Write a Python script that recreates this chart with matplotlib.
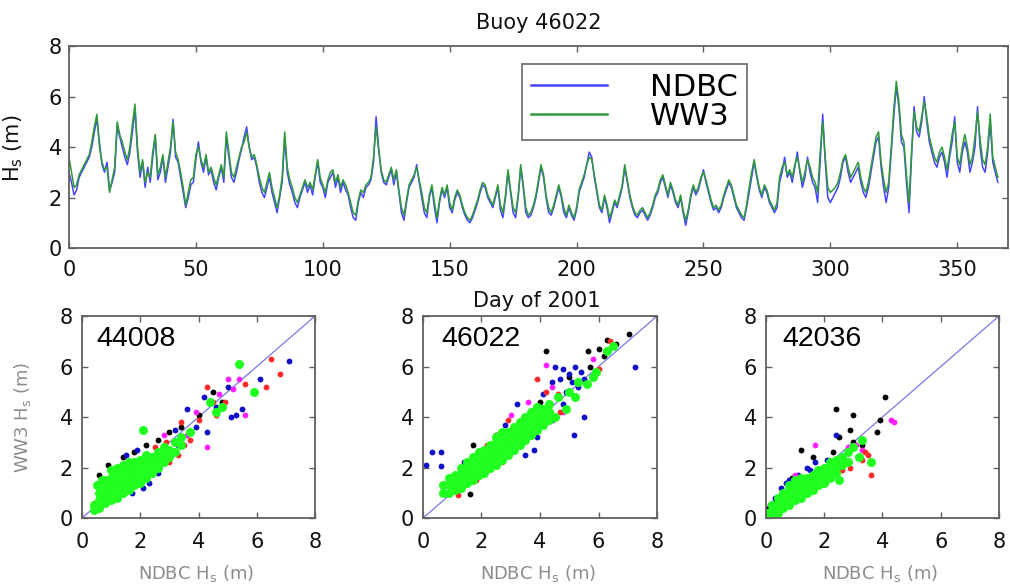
import numpy as np
import matplotlib
matplotlib.use("Agg")
import matplotlib.pyplot as plt

# ---------------- data ----------------
ndbc_hs = [
    3.0, 2.6, 2.1, 2.3, 2.8, 3.0, 3.2, 3.4, 3.6, 4.0,
    4.6, 5.1, 4.2, 3.3, 3.0, 3.4, 2.3, 2.6, 3.0, 4.8,
    4.4, 4.0, 3.6, 3.3, 3.8, 4.6, 5.5, 3.8, 2.8, 3.4,
    2.4, 3.2, 2.6, 3.6, 4.4, 2.7, 3.0, 3.6, 2.6, 3.2,
    3.8, 5.1, 3.6, 3.4, 2.8, 2.2, 1.6, 2.0, 2.5, 2.6,
    3.5, 4.2, 3.4, 3.0, 3.6, 2.9, 3.1, 2.6, 2.3, 2.8,
    3.2, 2.6, 4.4, 3.6, 2.8, 2.6, 3.0, 3.5, 3.9, 4.4,
    4.8, 4.0, 3.5, 3.6, 3.2, 2.6, 2.2, 2.0, 2.4, 2.8,
    2.2, 1.8, 1.4, 2.0, 2.6, 4.4, 3.0, 2.5, 2.2, 1.8,
    1.6, 2.0, 2.3, 2.6, 2.2, 2.5, 2.1, 2.8, 3.4, 2.6,
    2.4, 2.0, 2.6, 2.8, 3.0, 2.4, 2.8, 2.2, 2.6, 2.3,
    2.1, 1.6, 1.2, 1.1, 1.8, 2.2, 2.0, 2.4, 2.5, 2.7,
    3.4, 5.2, 4.0, 3.0, 2.6, 2.5, 2.8, 3.1, 2.5, 3.0,
    2.2, 1.4, 1.1, 1.8, 2.4, 2.6, 2.8, 3.3, 2.6, 2.0,
    1.4, 1.2, 2.0, 2.4, 1.6, 1.0, 1.8, 2.3, 2.0, 2.4,
    1.6, 1.4, 1.9, 2.2, 2.0, 1.6, 1.3, 1.1, 1.0, 1.2,
    1.5, 1.8, 2.2, 2.5, 2.4, 2.0, 1.8, 1.6, 2.0, 2.4,
    1.5, 1.2, 2.0, 3.0, 2.2, 1.4, 1.2, 2.0, 3.2, 2.4,
    1.4, 1.2, 1.3, 1.6, 2.0, 2.6, 3.2, 2.8, 2.0, 1.4,
    1.3, 1.6, 2.0, 2.4, 2.0, 1.4, 1.2, 1.6, 1.3, 1.1,
    1.5, 2.2, 2.5, 2.8, 3.3, 3.8, 3.6, 2.8, 2.2, 1.6,
    1.4, 2.0, 1.6, 1.0, 1.4, 1.8, 1.6, 2.0, 2.4, 3.2,
    2.6, 2.0, 1.6, 1.3, 1.2, 1.4, 1.5, 1.3, 1.1, 1.3,
    1.6, 2.0, 2.2, 2.6, 2.8, 2.4, 2.0, 2.5, 2.2, 1.8,
    1.6, 2.0, 1.4, 0.9, 1.4, 2.0, 2.4, 2.1, 2.3, 2.7,
    3.1, 2.6, 2.2, 1.8, 1.5, 1.6, 1.4, 1.6, 2.0, 2.3,
    2.6, 2.4, 2.0, 1.6, 1.4, 1.2, 1.1, 1.6, 2.2, 2.8,
    3.4, 2.8, 2.3, 2.0, 2.4, 2.2, 1.8, 1.6, 1.4, 1.6,
    2.6, 3.0, 3.6, 2.8, 3.0, 2.6, 3.2, 3.8, 3.0, 2.4,
    2.8, 3.6, 3.0, 2.6, 2.4, 1.8, 3.4, 5.3, 3.4, 2.0,
    1.8, 2.0, 2.2, 2.4, 2.8, 3.4, 3.6, 3.0, 2.6, 2.8,
    3.0, 3.2, 2.6, 2.2, 2.0, 2.4, 3.0, 3.6, 4.2, 4.4,
    3.2, 2.4, 1.8, 2.4, 3.8, 5.2, 6.4, 5.6, 4.2, 4.0,
    2.6, 1.4, 3.6, 5.6, 4.6, 4.4, 5.0, 6.0, 5.0, 4.2,
    3.8, 3.4, 3.2, 3.6, 3.8, 3.4, 2.8, 3.6, 4.2, 5.2,
    3.4, 3.0, 3.8, 4.2, 3.8, 3.0, 3.4, 4.0, 5.6, 4.0,
    3.2, 3.0, 3.8, 5.0, 3.4, 3.0, 2.6,
]

ww3_hs = [
    3.6, 3.0, 2.4, 2.5, 2.9, 3.1, 3.3, 3.5, 3.7, 4.2,
    4.8, 5.3, 4.0, 3.4, 3.1, 3.2, 2.2, 2.7, 3.2, 5.0,
    4.5, 4.2, 3.8, 3.5, 4.0, 4.9, 5.7, 4.0, 3.0, 3.5,
    2.6, 3.0, 2.8, 3.8, 4.5, 2.9, 3.2, 3.7, 2.8, 3.4,
    4.0, 5.0, 3.8, 3.5, 3.0, 2.4, 1.7, 2.2, 2.7, 2.8,
    3.7, 4.0, 3.5, 3.2, 3.7, 3.0, 3.2, 2.8, 2.5, 2.9,
    3.3, 2.8, 4.6, 3.8, 3.0, 2.8, 3.2, 3.6, 4.0, 4.2,
    4.6, 4.0, 3.6, 3.7, 3.3, 2.8, 2.4, 2.2, 2.6, 3.0,
    2.4, 2.0, 1.6, 2.1, 2.8, 4.6, 3.2, 2.7, 2.4, 2.0,
    1.8, 2.1, 2.4, 2.7, 2.4, 2.6, 2.3, 2.9, 3.5, 2.8,
    2.5, 2.2, 2.7, 3.0, 3.1, 2.6, 2.9, 2.4, 2.7, 2.5,
    2.2, 1.8, 1.4, 1.3, 1.9, 2.3, 2.2, 2.5, 2.6, 2.8,
    3.6, 4.8, 3.9, 3.1, 2.7, 2.6, 2.9, 3.2, 2.7, 3.1,
    2.3, 1.6, 1.3, 1.9, 2.5, 2.7, 2.9, 3.2, 2.7, 2.2,
    1.6, 1.4, 2.1, 2.5, 1.8, 1.2, 1.9, 2.4, 2.1, 2.5,
    1.8, 1.5, 2.0, 2.3, 2.1, 1.7, 1.4, 1.2, 1.1, 1.3,
    1.6, 1.9, 2.3, 2.6, 2.5, 2.1, 1.9, 1.7, 2.1, 2.5,
    1.7, 1.4, 2.1, 3.1, 2.3, 1.6, 1.4, 2.1, 3.3, 2.5,
    1.6, 1.3, 1.4, 1.7, 2.1, 2.7, 3.3, 2.9, 2.1, 1.6,
    1.4, 1.7, 2.1, 2.5, 2.1, 1.6, 1.3, 1.7, 1.4, 1.2,
    1.6, 2.3, 2.6, 2.9, 3.3, 3.6, 3.5, 2.9, 2.3, 1.7,
    1.5, 2.1, 1.7, 1.2, 1.5, 1.9, 1.7, 2.1, 2.5, 3.3,
    2.7, 2.1, 1.7, 1.4, 1.3, 1.5, 1.6, 1.4, 1.2, 1.4,
    1.7, 2.1, 2.3, 2.7, 2.9, 2.5, 2.1, 2.6, 2.3, 1.9,
    1.7, 2.1, 1.5, 1.1, 1.5, 2.1, 2.5, 2.2, 2.4, 2.8,
    3.0, 2.7, 2.3, 1.9, 1.6, 1.7, 1.5, 1.7, 2.1, 2.4,
    2.7, 2.5, 2.1, 1.7, 1.5, 1.3, 1.2, 1.7, 2.4, 3.0,
    3.5, 2.9, 2.4, 2.1, 2.5, 2.3, 1.9, 1.7, 1.5, 1.8,
    2.8, 3.2, 3.4, 2.9, 3.1, 2.8, 3.3, 3.6, 3.1, 2.6,
    3.0, 3.5, 3.2, 2.8, 2.6, 2.2, 3.8, 5.0, 3.6, 2.4,
    2.2, 2.3, 2.4, 2.6, 3.0, 3.5, 3.7, 3.2, 2.8, 3.0,
    3.2, 3.4, 2.8, 2.4, 2.2, 2.6, 3.2, 3.8, 4.4, 4.6,
    3.4, 2.7, 2.2, 2.6, 4.0, 5.5, 6.6, 5.8, 4.5, 4.2,
    2.9, 1.8, 3.8, 5.4, 4.8, 4.6, 5.2, 5.8, 5.2, 4.4,
    4.0, 3.6, 3.4, 3.8, 4.0, 3.6, 3.1, 3.8, 4.5, 5.0,
    3.6, 3.3, 4.0, 4.5, 4.0, 3.3, 3.6, 4.4, 5.4, 4.3,
    3.5, 3.3, 4.0, 5.3, 3.6, 3.2, 2.8,
]

series_labels = ["NDBC", "WW3"]
buoy_ids = ["44008", "46022", "42036"]
axis_ticks = [0, 2, 4, 6, 8]
day_ticks = [0, 50, 100, 150, 200, 250, 300, 350]
one_to_one = [0, 8]

# scatter pairs (NDBC Hs, WW3 Hs) per buoy and colour group
b44008_black = [(0.9, 2.1), (1.4, 2.4), (1.8, 2.6), (2.6, 3.1), (3.0, 3.4), (3.4, 3.6),
                (4.0, 4.1), (4.8, 4.6), (0.6, 1.7), (2.2, 2.9), (4.5, 5.0)]
b44008_blue = [(7.1, 6.2), (6.1, 5.5), (5.0, 5.2), (4.2, 4.8), (5.5, 4.3), (5.1, 4.0),
               (5.3, 4.1), (4.3, 3.4), (3.6, 4.3), (2.1, 1.2), (2.3, 1.4), (1.9, 2.7),
               (1.5, 2.5), (2.9, 2.4), (3.3, 2.9), (3.9, 3.6), (2.6, 1.8), (3.2, 3.5),
               (4.6, 4.4), (1.7, 1.0)]
b44008_red = [(6.5, 6.3), (6.8, 5.7), (6.3, 5.2), (5.6, 5.3), (4.3, 5.2), (4.6, 4.1),
              (4.5, 4.6), (3.4, 3.8), (3.0, 2.2), (2.7, 2.4), (3.3, 2.5), (2.9, 3.0),
              (3.7, 3.1), (4.0, 3.9), (2.5, 2.8), (0.5, 0.4), (0.4, 0.6), (3.5, 2.9),
              (4.9, 4.6)]
b44008_magenta = [(5.4, 5.5), (5.2, 5.1), (5.0, 5.5), (4.3, 2.8), (5.6, 4.1), (3.9, 4.2),
                  (2.8, 3.3), (3.6, 3.3), (4.7, 4.9)]
b44008_green = [(0.4, 0.3), (0.4, 0.5), (0.6, 0.4), (0.6, 0.7), (0.6, 1.0), (0.8, 0.6),
                (0.8, 0.9), (0.8, 1.2), (0.8, 1.5), (1.0, 0.7), (1.0, 1.0), (1.0, 1.3),
                (1.0, 1.6), (1.0, 1.9), (1.2, 0.8), (1.2, 1.1), (1.2, 1.4), (1.2, 1.7),
                (1.2, 2.0), (1.4, 1.0), (1.4, 1.3), (1.4, 1.6), (1.4, 1.9), (1.4, 2.1),
                (1.6, 1.1), (1.6, 1.4), (1.6, 1.7), (1.6, 2.0), (1.6, 2.2), (1.8, 1.3),
                (1.8, 1.6), (1.8, 1.9), (1.8, 2.2), (2.0, 1.4), (2.0, 1.7), (2.0, 2.0),
                (2.0, 2.3), (2.2, 1.6), (2.2, 1.9), (2.2, 2.2), (2.2, 2.5), (2.4, 1.8),
                (2.4, 2.1), (2.4, 2.4), (2.6, 2.0), (2.6, 2.3), (2.6, 2.6), (2.8, 2.2),
                (2.8, 2.5), (2.8, 2.8), (3.0, 2.4), (3.0, 2.7), (3.2, 2.6), (3.2, 3.0),
                (3.4, 2.9), (3.4, 3.2), (2.1, 3.5), (3.7, 3.4), (4.4, 4.6), (4.8, 4.4),
                (5.4, 6.1), (5.9, 5.0), (4.6, 4.2), (0.5, 1.3), (0.7, 1.5)]

b46022_black = [(7.05, 7.3), (6.3, 7.05), (6.6, 6.9), (5.65, 6.6), (4.2, 6.6), (5.7, 6.0),
                (6.2, 6.4), (1.7, 2.9), (1.6, 0.95), (4.0, 4.6), (5.0, 5.6), (2.5, 3.3),
                (6.0, 6.7)]
b46022_blue = [(0.1, 2.1), (0.3, 2.6), (0.6, 2.6), (0.6, 2.05), (7.25, 6.0), (4.5, 6.0),
               (4.8, 5.9), (5.0, 5.7), (5.2, 6.0), (5.4, 5.8), (4.7, 5.5), (5.1, 5.4),
               (4.9, 5.0), (5.5, 5.5), (4.4, 5.4), (5.3, 5.2), (5.15, 3.3), (5.5, 4.0),
               (3.8, 2.7), (3.5, 2.5), (3.2, 4.5), (4.4, 3.9), (4.1, 4.9), (1.4, 2.2),
               (2.8, 3.7), (4.8, 4.5), (3.9, 3.2)]
b46022_red = [(6.4, 7.0), (3.9, 5.5), (4.7, 4.2), (2.4, 2.3), (1.8, 1.5), (1.2, 0.9),
              (2.9, 3.9), (4.2, 5.0), (3.4, 3.0), (2.2, 2.9), (1.0, 1.3), (4.6, 4.9),
              (2.7, 2.2), (6.0, 5.9)]
b46022_magenta = [(4.2, 6.05), (4.8, 4.2), (3.0, 4.1), (4.4, 5.2), (5.8, 6.3), (3.6, 4.6),
                  (2.0, 2.6)]
b46022_green = [(0.7, 1.0), (0.7, 1.3), (0.9, 1.0), (0.9, 1.3), (0.9, 1.6), (1.1, 1.1),
                (1.1, 1.4), (1.1, 1.7), (1.3, 1.2), (1.3, 1.5), (1.3, 1.8), (1.3, 2.0),
                (1.5, 1.4), (1.5, 1.7), (1.5, 2.0), (1.5, 2.2), (1.7, 1.5), (1.7, 1.8),
                (1.7, 2.1), (1.7, 2.4), (1.9, 1.7), (1.9, 2.0), (1.9, 2.3), (1.9, 2.6),
                (2.1, 1.8), (2.1, 2.1), (2.1, 2.4), (2.1, 2.7), (2.3, 2.0), (2.3, 2.3),
                (2.3, 2.6), (2.3, 2.9), (2.5, 2.1), (2.5, 2.4), (2.5, 2.7), (2.5, 3.0),
                (2.5, 3.2), (2.7, 2.3), (2.7, 2.6), (2.7, 2.9), (2.7, 3.2), (2.7, 3.4),
                (2.9, 2.5), (2.9, 2.8), (2.9, 3.1), (2.9, 3.4), (3.1, 2.7), (3.1, 3.0),
                (3.1, 3.3), (3.1, 3.6), (3.3, 2.9), (3.3, 3.2), (3.3, 3.5), (3.3, 3.8),
                (3.5, 3.1), (3.5, 3.4), (3.5, 3.7), (3.5, 4.0), (3.7, 3.3), (3.7, 3.6),
                (3.7, 3.9), (3.7, 4.2), (3.9, 3.5), (3.9, 3.8), (3.9, 4.1), (3.9, 4.4),
                (4.1, 3.7), (4.1, 4.0), (4.1, 4.3), (4.3, 3.9), (4.3, 4.2), (4.3, 4.5),
                (4.6, 4.8), (5.0, 5.0), (5.3, 5.4), (5.8, 5.6), (5.9, 5.8), (6.3, 6.6),
                (6.5, 6.8), (4.9, 4.3), (4.5, 4.0), (5.6, 5.3), (5.2, 4.8)]

b42036_black = [(4.1, 4.8), (2.4, 4.3), (3.0, 4.1), (3.9, 3.9), (2.9, 3.5), (3.8, 3.4),
                (2.5, 3.2), (1.2, 2.7), (3.0, 3.0), (2.3, 2.6), (0.05, 0.35), (0.15, 0.5),
                (0.25, 0.6), (0.35, 0.55), (1.6, 2.4), (0.9, 1.6), (3.3, 2.9)]
b42036_blue = [(1.5, 1.9), (1.4, 2.0), (0.7, 1.4), (0.8, 1.5), (0.9, 1.3), (2.6, 2.4),
               (1.7, 2.2), (0.5, 1.2), (0.3, 0.8), (1.1, 1.7), (2.4, 3.3), (2.1, 2.3)]
b42036_red = [(3.3, 2.3), (3.5, 2.5), (3.6, 1.7), (3.4, 2.6), (2.9, 2.0), (2.6, 1.9),
              (2.3, 2.1)]
b42036_magenta = [(1.7, 2.9), (1.0, 1.7), (4.4, 3.8), (4.3, 3.9), (3.1, 2.9), (3.3, 2.7),
                  (2.8, 2.8)]
b42036_green = [(0.05, 0.0), (0.05, 0.2), (0.2, 0.1), (0.2, 0.3), (0.2, 0.5), (0.4, 0.2),
                (0.4, 0.4), (0.4, 0.6), (0.4, 0.8), (0.6, 0.4), (0.6, 0.6), (0.6, 0.8),
                (0.6, 1.0), (0.8, 0.5), (0.8, 0.7), (0.8, 0.9), (0.8, 1.1), (0.8, 1.3),
                (1.0, 0.7), (1.0, 0.9), (1.0, 1.1), (1.0, 1.3), (1.0, 1.5), (1.2, 0.8),
                (1.2, 1.0), (1.2, 1.2), (1.2, 1.4), (1.2, 1.6), (1.4, 1.0), (1.4, 1.2),
                (1.4, 1.4), (1.4, 1.6), (1.6, 1.1), (1.6, 1.3), (1.6, 1.5), (1.6, 1.7),
                (1.8, 1.3), (1.8, 1.5), (1.8, 1.7), (1.8, 1.9), (2.0, 1.4), (2.0, 1.6),
                (2.0, 1.8), (2.0, 2.0), (2.2, 1.6), (2.2, 1.8), (2.2, 2.0), (2.2, 2.2),
                (2.4, 1.8), (2.4, 2.0), (2.4, 2.3), (2.6, 2.1), (2.6, 2.4), (2.8, 2.2),
                (2.8, 2.6), (3.2, 2.4), (3.6, 2.2), (3.3, 3.1), (3.0, 2.8), (2.5, 1.5)]

scatter_groups = {
    "44008": [("black", b44008_black), ("blue", b44008_blue), ("magenta", b44008_magenta),
              ("red", b44008_red), ("green", b44008_green)],
    "46022": [("black", b46022_black), ("blue", b46022_blue), ("magenta", b46022_magenta),
              ("red", b46022_red), ("green", b46022_green)],
    "42036": [("black", b42036_black), ("blue", b42036_blue), ("magenta", b42036_magenta),
              ("red", b42036_red), ("green", b42036_green)],
}

# ---------------- style ----------------
plt.rcParams['font.family'] = ['DejaVu Sans']
spine_col = '#606060'
dot_colors = {"black": "#000000", "blue": "#1010c8", "magenta": "#ff20ff",
              "red": "#ff2a2a", "green": "#20ff20"}

fig = plt.figure(figsize=(10.1, 5.87), dpi=100)
fig.patch.set_facecolor('white')


def style_axes(ax, xpad, ypad):
    for s in ax.spines.values():
        s.set_color(spine_col)
        s.set_linewidth(1.3)
    ax.tick_params(direction='in', length=4, width=1, color=spine_col,
                   top=True, right=True, labelsize=15, labelcolor='#111111')
    ax.tick_params(axis='x', pad=xpad)
    ax.tick_params(axis='y', pad=ypad)


# ---------------- top time series ----------------
ax = fig.add_axes([0.0683, 0.5775, 0.9297, 0.3441])
days = np.arange(len(ndbc_hs))
ax.plot(days, ndbc_hs, color='#4646ff', lw=1.1, label=series_labels[0])
ax.plot(days, ww3_hs, color='#2f9a3a', lw=1.1, label=series_labels[1])
ax.set_xlim(0, 370)
ax.set_ylim(0, 8)
ax.set_xticks(day_ticks)
ax.set_yticks(axis_ticks)
style_axes(ax, 8.5, 5)
ax.set_title('Buoy 46022', fontsize=15, pad=12, color='#111111')
ax.set_xlabel('Day of 2001', fontsize=15, color='#111111')
ax.xaxis.set_label_coords(0.498, -0.215)
ax.set_ylabel(r'H$_{\rm s}$ (m)', fontsize=15, color='#111111')
ax.yaxis.set_label_coords(-0.047, 0.495)
leg = ax.legend(loc='upper left', bbox_to_anchor=(0.482, 0.911), borderaxespad=0,
                fontsize=22, frameon=True, fancybox=False, edgecolor='#505050',
                handlelength=2.5, handletextpad=1.4, labelspacing=0.0, borderpad=0.3)
leg.get_frame().set_linewidth(1.3)
for ln in leg.get_lines():
    ln.set_linewidth(1.8)

# ---------------- scatter panels ----------------
scatter_boxes = [[0.0812, 0.1175, 0.2307, 0.3441],
                 [0.4188, 0.1175, 0.2317, 0.3441],
                 [0.7584, 0.1175, 0.2307, 0.3441]]
label_x = [0.5, 0.64, 0.57]

for i, (bid, box) in enumerate(zip(buoy_ids, scatter_boxes)):
    sa = fig.add_axes(box)
    sa.plot(one_to_one, one_to_one, color='#7878e8', lw=0.9, zorder=1)
    for cname, pts in scatter_groups[bid]:
        xs = [p[0] for p in pts]
        ys = [p[1] for p in pts]
        ms = 6.5 if cname == 'green' else 4.2
        sa.plot(xs, ys, linestyle='none', marker='o', ms=ms, mew=0,
                color=dot_colors[cname], zorder=2)
    sa.set_xlim(0, 8)
    sa.set_ylim(0, 8)
    sa.set_xticks(axis_ticks)
    sa.set_yticks(axis_ticks)
    style_axes(sa, 10, 6.5)
    sa.text(label_x[i], 6.8, bid, fontsize=20.5, va='baseline', ha='left',
            family=['Liberation Sans'], color='black', zorder=5)
    sa.set_xlabel(r'NDBC H$_{\rm s}$ (m)', fontsize=13, color='#8c8c8c')
    sa.xaxis.set_label_coords(0.49, -0.225)
    if i == 0:
        sa.set_ylabel(r'WW3 H$_{\rm s}$ (m)', fontsize=13, color='#8c8c8c')
        sa.yaxis.set_label_coords(-0.21, 0.5)

fig.savefig('out.png', dpi=100, facecolor='white')
